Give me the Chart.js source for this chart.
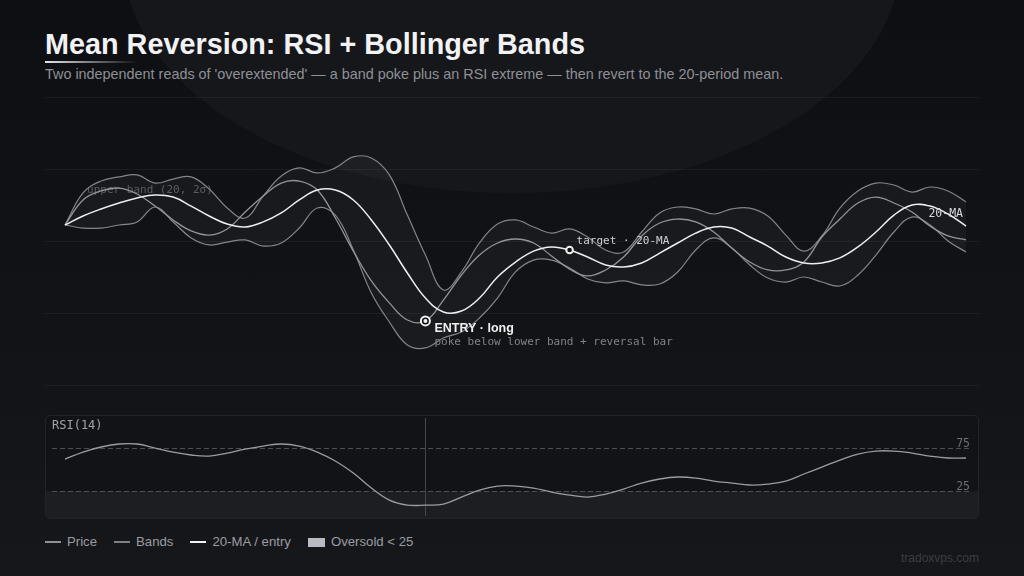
<!DOCTYPE html>
<html>
<head>
<meta charset="utf-8">
<script src="https://cdn.jsdelivr.net/npm/chart.js@4.4.1/dist/chart.umd.min.js"></script>
<style>
  html, body { margin: 0; padding: 0; }
  body {
    width: 1024px; height: 576px; overflow: hidden; position: relative;
    background: linear-gradient(180deg, #0e0f12 0%, #121316 55%, #16171b 100%);
    font-family: "Liberation Sans", Arial, sans-serif;
  }
  .glow { position: absolute; left: 124px; top: -273px; width: 776px; height: 466px; border-radius: 50%; background: #16171b; }
  h1 { position: absolute; left: 45px; top: 30px; margin: 0; font-size: 28.8px; line-height: 1; font-weight: 700; color: #f2f2f4; }
  .accent { position: absolute; left: 45px; top: 61px; width: 92px; height: 2px; background: linear-gradient(90deg, #e6e6e8, rgba(230,230,232,0)); }
  .sub { position: absolute; left: 45px; top: 67px; font-size: 14.4px; line-height: 1; color: #8e9096; white-space: nowrap; }
  #main { position: absolute; left: 0; top: 87px; }
  .panel { position: absolute; left: 45px; top: 415px; width: 932px; height: 102px; border: 1px solid #23242a; border-radius: 5px; background: #121317; }
  #rsi { position: absolute; left: 45px; top: 415px; }
  .legend { position: absolute; left: 45px; top: 534px; display: flex; align-items: center; font-size: 13.2px; color: #9a9ca2; line-height: 16px; }
  .legend .item { display: flex; align-items: center; margin-right: 17px; }
  .legend .sw { width: 16px; height: 2px; margin-right: 6px; }
  .legend .box { width: 17px; height: 9px; margin-right: 6px; background: #b9bbc2; }
  .mark { position: absolute; right: 45px; top: 551px; font-size: 12px; color: #3b3d43; }
</style>
</head>
<body>
<div class="glow"></div>
<h1>Mean Reversion: RSI + Bollinger Bands</h1>
<div class="accent"></div>
<div class="sub">Two independent reads of 'overextended' — a band poke plus an RSI extreme — then revert to the 20-period mean.</div>
<canvas id="main" width="1024" height="308"></canvas>
<div class="panel"></div>
<canvas id="rsi" width="934" height="104"></canvas>
<div class="legend">
  <div class="item"><span class="sw" style="background:#8f9197"></span>Price</div>
  <div class="item"><span class="sw" style="background:#7f8187"></span>Bands</div>
  <div class="item"><span class="sw" style="background:#f2f2f4"></span>20-MA / entry</div>
  <div class="item"><span class="box"></span>Oversold &lt; 25</div>
</div>
<div class="mark">tradoxvps.com</div>
<script>
// bar index along the x axis
const bars = [...Array(51).keys()];

const priceData = [100.89,102.28,102.78,102.94,102.61,101.94,101.17,100.56,100.33,100.67,
  101.61,102.50,103.22,103.33,102.83,101.28,99.44,97.78,96.56,95.61,
  95.56,96.72,98.11,99.22,99.89,100.11,99.89,99.17,98.44,98.06,
  98.39,99.11,100.28,101.00,101.22,101.06,100.50,99.61,98.83,98.39,
  98.39,98.83,100.22,101.22,102.11,102.44,102.11,101.61,100.83,100.28,100.06];

const upperBand = [100.89,102.67,103.33,103.56,103.67,103.22,103.44,103.56,102.89,101.83,
  101.28,102.50,103.61,104.06,103.78,104.06,104.67,104.61,103.67,101.44,
  99.22,97.28,98.28,99.89,100.94,101.17,100.78,100.44,100.67,100.22,
  99.50,99.39,100.50,101.56,101.89,101.78,101.50,101.78,101.83,101.39,
  100.33,99.44,100.28,101.83,102.78,103.22,103.11,102.72,103.00,102.78,102.17];

const lowerBand = [100.89,100.72,100.72,100.89,101.06,101.89,101.06,100.17,99.78,99.94,
  100.06,99.72,99.89,100.72,101.83,101.44,99.50,97.11,95.50,94.22,
  94.06,94.61,94.94,95.72,96.83,98.28,98.94,98.94,98.50,97.89,
  97.67,97.78,97.56,97.61,98.28,99.50,100.17,99.61,98.67,97.94,
  97.72,98.00,97.72,97.50,98.11,99.22,100.50,101.33,100.89,100.00,99.39];

const ma20 = [100.89,101.39,101.78,102.11,102.39,102.56,102.44,101.94,101.39,100.94,
  100.78,101.06,101.56,102.28,102.83,102.83,102.28,101.17,99.78,98.22,
  96.83,96.06,96.11,96.83,98.00,98.83,99.44,99.67,99.50,99.11,
  98.67,98.56,98.78,99.33,99.89,100.44,100.78,100.72,100.22,99.72,
  99.11,98.78,98.78,99.06,99.67,100.50,101.44,102.00,101.94,101.50,100.83];

const rsi14 = [62.2,70.3,76.2,79.7,79.7,75.0,70.3,66.9,65.7,69.2,
  73.8,77.3,79.7,77.3,70.3,59.9,45.9,28.5,14.5,8.7,
  8.7,9.9,18.0,26.2,30.8,30.8,28.5,23.8,20.3,18.0,
  21.5,27.3,34.3,39.0,41.3,40.1,36.6,34.3,32.0,33.1,
  36.6,44.8,52.9,61.0,68.0,71.5,71.5,69.2,65.7,63.4,63.4];

const rsiLevels = [75, 25];
const entryBar = 20;
const targetBar = 28;

const xs = (arr) => bars.map((b, i) => ({ x: b, y: arr[i] }));
const MONO = '"DejaVu Sans Mono", monospace';
const SANS = '"Liberation Sans", Arial, sans-serif';

const mainNotes = {
  id: 'mainNotes',
  beforeDatasetsDraw(chart) {
    const { ctx, scales: { x, y } } = chart;
    ctx.save();
    ctx.font = '11px ' + MONO;
    ctx.fillStyle = '#55575d';
    ctx.fillText('upper band (20, 2σ)', x.getPixelForValue(1) + 4, y.getPixelForValue(upperBand[1]));
    ctx.restore();
  },
  afterDatasetsDraw(chart) {
    const { ctx, scales: { x, y } } = chart;
    ctx.save();
    // entry marker
    const ex = x.getPixelForValue(entryBar), ey = y.getPixelForValue(priceData[entryBar]);
    ctx.beginPath(); ctx.arc(ex, ey, 4.5, 0, Math.PI * 2);
    ctx.fillStyle = '#111215'; ctx.fill();
    ctx.lineWidth = 2; ctx.strokeStyle = '#f2f2f4'; ctx.stroke();
    ctx.beginPath(); ctx.arc(ex, ey, 2, 0, Math.PI * 2);
    ctx.fillStyle = '#f2f2f4'; ctx.fill();
    ctx.font = 'bold 12.5px ' + SANS;
    ctx.fillStyle = '#f0f0f2';
    ctx.fillText('ENTRY · long', ex + 9, ey + 11.5);
    ctx.font = '11px ' + MONO;
    ctx.fillStyle = '#7f8288';
    ctx.fillText('poke below lower band + reversal bar', ex + 9, ey + 24);
    // target marker
    const tx = x.getPixelForValue(targetBar), ty = y.getPixelForValue(ma20[targetBar]);
    ctx.beginPath(); ctx.arc(tx, ty, 3.3, 0, Math.PI * 2);
    ctx.fillStyle = '#111215'; ctx.fill();
    ctx.lineWidth = 2; ctx.strokeStyle = '#f2f2f4'; ctx.stroke();
    ctx.font = '11px ' + MONO;
    ctx.fillStyle = '#cfd1d6';
    ctx.fillText('target · 20-MA', tx + 7, ty - 6);
    // MA end label
    const last = bars.length - 1;
    ctx.textAlign = 'right';
    ctx.fillStyle = '#d8dadf';
    ctx.font = '11.5px ' + MONO;
    ctx.fillText('20-MA', x.getPixelForValue(last) - 3, y.getPixelForValue(ma20[last]) - 9);
    ctx.restore();
  }
};

new Chart(document.getElementById('main'), {
  type: 'line',
  data: {
    datasets: [
      { label: '20-MA', data: xs(ma20), borderColor: '#eeeef0', borderWidth: 1.5, tension: 0.4, pointRadius: 0, fill: false },
      { label: 'Price', data: xs(priceData), borderColor: '#939599', borderWidth: 1.3, tension: 0.4, pointRadius: 0, fill: false },
      { label: 'Upper', data: xs(upperBand), borderColor: '#828489', borderWidth: 1.2, tension: 0.4, pointRadius: 0,
        fill: '+1', backgroundColor: 'rgba(255,255,255,0.035)' },
      { label: 'Lower', data: xs(lowerBand), borderColor: '#828489', borderWidth: 1.2, tension: 0.4, pointRadius: 0, fill: false }
    ]
  },
  options: {
    responsive: false, animation: false, devicePixelRatio: 1,
    layout: { padding: { left: 45, right: 45, top: 10, bottom: 10 } },
    plugins: { legend: { display: false }, tooltip: { enabled: false } },
    scales: {
      x: { type: 'linear', min: -1.11, max: 50.72, display: false },
      y: { min: 92, max: 108, ticks: { display: false, stepSize: 4 },
           grid: { color: 'rgba(255,255,255,0.05)', drawTicks: false }, border: { display: false } }
    }
  },
  plugins: [mainNotes]
});

const rsiNotes = {
  id: 'rsiNotes',
  beforeDatasetsDraw(chart) {
    const { ctx, chartArea: a, scales: { x, y } } = chart;
    ctx.save();
    const y25 = y.getPixelForValue(rsiLevels[1]);
    ctx.fillStyle = '#1d1e22';
    ctx.fillRect(a.left + 1, y25, a.right - a.left - 2, a.bottom - 1 - y25);
    ctx.setLineDash([5, 3]);
    ctx.strokeStyle = '#4e4f55';
    ctx.lineWidth = 1;
    ctx.font = '11.5px ' + MONO;
    ctx.fillStyle = '#6b6d73';
    ctx.textAlign = 'right';
    rsiLevels.forEach(v => {
      const py = Math.round(y.getPixelForValue(v)) + 0.5;
      ctx.beginPath(); ctx.moveTo(a.left + 7, py); ctx.lineTo(a.right - 7, py); ctx.stroke();
      ctx.fillText(String(v), a.right - 9, py - 1.5);
    });
    ctx.setLineDash([]);
    const vx = Math.round(x.getPixelForValue(entryBar)) + 0.5;
    ctx.strokeStyle = '#45464c';
    ctx.beginPath(); ctx.moveTo(vx, a.top + 3); ctx.lineTo(vx, a.bottom - 3); ctx.stroke();
    ctx.textAlign = 'left';
    ctx.font = '12px ' + MONO;
    ctx.fillStyle = '#a0a2a8';
    ctx.fillText('RSI(14)', a.left + 7, a.top + 14);
    ctx.restore();
  }
};

new Chart(document.getElementById('rsi'), {
  type: 'line',
  data: {
    datasets: [
      { label: 'RSI(14)', data: xs(rsi14), borderColor: '#9a9ca2', borderWidth: 1.3, tension: 0.4, pointRadius: 0, fill: false }
    ]
  },
  options: {
    responsive: false, animation: false, devicePixelRatio: 1,
    layout: { padding: 0 },
    plugins: { legend: { display: false }, tooltip: { enabled: false } },
    scales: {
      x: { type: 'linear', min: -1.11, max: 50.72, display: false },
      y: { min: -7.5, max: 113.4, display: false }
    }
  },
  plugins: [rsiNotes]
});
</script>
</body>
</html>
